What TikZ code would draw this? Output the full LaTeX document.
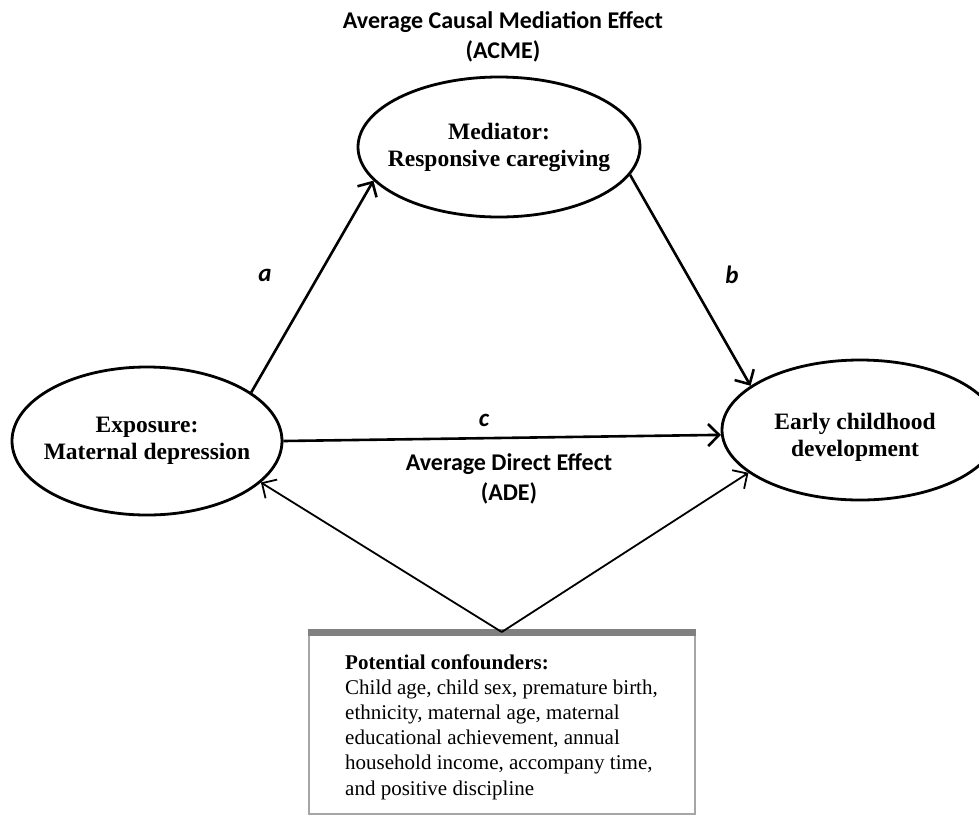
\documentclass[tikz,border=0pt]{standalone}
\usepackage{fontspec}
\setmainfont{Liberation Serif}
\newfontfamily\calib{Carlito}
\usetikzlibrary{arrows.meta,shapes.geometric}
\begin{document}
\begin{tikzpicture}[x=1pt,y=-1pt,
  oval/.style={draw, ellipse, line width=2.8pt, inner sep=0pt},
  ovaltext/.style={font=\fontsize{23.5}{27}\selectfont\bfseries, align=center},
  arr/.style={line width=2.6pt, -{Straight Barb[length=11pt,width=22pt]}},
  carr/.style={line width=1.8pt, -{Straight Barb[length=11pt,width=22pt]}},
  lbl/.style={font=\calib\fontsize{24}{30.5}\selectfont\bfseries, align=center},
  ital/.style={font=\calib\fontsize{25}{28}\selectfont\bfseries\itshape}]
\useasboundingbox (0,0) rectangle (979,815);
% ellipses
\node[oval, minimum width=282pt, minimum height=140pt] (med) at (499,147) {};
\node[ovaltext] (medt) at (med.center) {Mediator:\\Responsive caregiving};
\node[oval, minimum width=270pt, minimum height=148pt] (expo) at (147,441) {};
\node[ovaltext] (expot) at (expo.center) {Exposure:\\Maternal depression};
\node[oval, minimum width=276pt, minimum height=140pt] (early) at (860,430) {};
\node[ovaltext] (earlyt) at (855,437) {Early childhood\\development};
% confounder box
\node[draw=gray!70, line width=1.5pt, minimum width=386pt, minimum height=181pt, anchor=north west, inner sep=0pt] (conf) at (308,632) {};
\draw[line width=7pt, gray] (conf.north west) -- (conf.north east);
\node[anchor=north west, align=left, font=\fontsize{21}{25.2}\selectfont, inner sep=0pt] (conft) at (345,654)
  {\textbf{Potential confounders:}\\
   Child age, child sex, premature birth,\\
   ethnicity, maternal age, maternal\\
   educational achievement, annual\\
   household income, accompany time,\\
   and positive discipline};
% arrows
\draw[arr] (expo.25) -- (med.195);
\draw[arr] (med.-12) -- (early.158);
\draw[arr] (expo.0) -- (early.182);
\draw[carr] (conf.north) -- (expo.-20);
\draw[carr] (conf.north) -- (early.201);
% labels
\node[lbl] (acme) at (503,37) {Average Causal Mediation Effect\\(ACME)};
\node[lbl] (ade) at (509,479) {Average Direct Effect\\(ADE)};
\node[ital] (la) at (265,275) {a};
\node[ital] (lb) at (732,275) {b};
\node[ital] (lc) at (484,420) {c};
\end{tikzpicture}
\end{document}
